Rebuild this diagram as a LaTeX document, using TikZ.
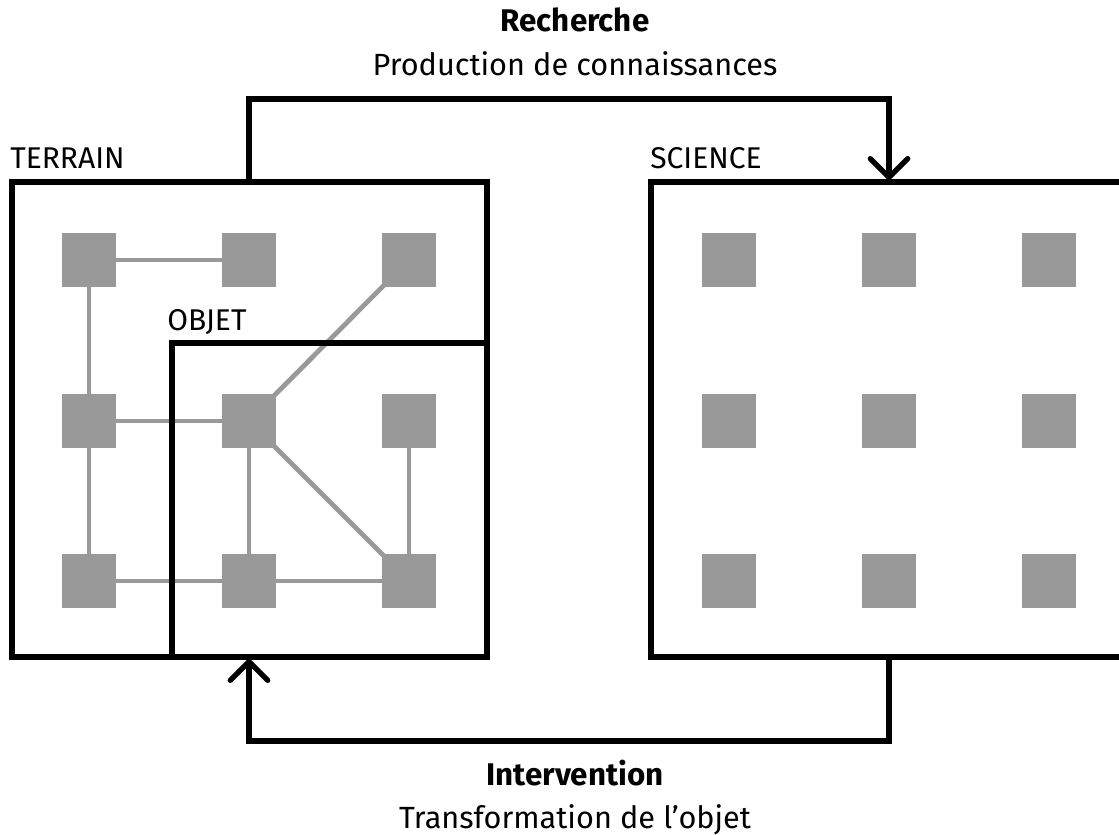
\documentclass[tikz,border=0pt]{standalone}
\usepackage{fontspec}
\setmainfont{Fira Sans}
\usetikzlibrary{arrows.meta}
\definecolor{sq}{HTML}{999999}
\tikzset{
  sqnode/.style={fill=sq, minimum size=40.5pt, inner sep=0pt, draw=none},
  edge/.style={draw=sq, line width=3.6pt},
  frame/.style={draw=black, line width=4pt},
  flow/.style={draw=black, line width=4pt, -{Straight Barb[length=14pt,width=28pt,round]}},
  lab/.style={font=\fontsize{22.5}{26}\selectfont, inner sep=0pt, anchor=base west},
  ttl/.style={font=\fontsize{23.5}{27}\selectfont\bfseries, inner sep=0pt, anchor=base},
  sub/.style={font=\fontsize{23}{27}\selectfont, inner sep=0pt, anchor=base}
}
\begin{document}
\begin{tikzpicture}[x=0.75pt,y=-0.75pt]
\useasboundingbox (0,0) rectangle (1119,834);
% terrain squares
\foreach \i/\x in {1/89,2/249,3/409}{
  \foreach \j/\y in {1/260,2/421,3/581}{
    \coordinate (t\i\j) at (\x,\y);
  }
}
\foreach \i/\x in {1/729,2/889,3/1049}{
  \foreach \j/\y in {1/260,2/421,3/581}{
    \node[sqnode] (s\i\j) at (\x,\y) {};
  }
}
% edges
\draw[edge] (t11) -- (t21);
\draw[edge] (t11) -- (t12);
\draw[edge] (t12) -- (t22);
\draw[edge] (t12) -- (t13);
\draw[edge] (t13) -- (t23);
\draw[edge] (t23) -- (t33);
\draw[edge] (t22) -- (t23);
\draw[edge] (t22) -- (t31);
\draw[edge] (t22) -- (t33);
\draw[edge] (t32) -- (t33);
\foreach \i in {1,2,3}{\foreach \j in {1,2,3}{\node[sqnode] (n\i\j) at (t\i\j) {};}}
% frames
\draw[frame] (12,182) rectangle (487,657);
\draw[frame] (172,343) rectangle (487,657);
\draw[frame] (651,182) rectangle (1135,657);
\coordinate (tt) at (249,182);
\coordinate (st) at (889,180);
\coordinate (sb) at (889,657);
\coordinate (tb) at (249,659);
\draw[flow] (tt) |- (569,99) -| (st);
\draw[flow] (sb) |- (569,741) -| (tb);
% labels
\node[lab] (lt) at (10,169) {TERRAIN};
\node[lab] (ls) at (650,169) {SCIENCE};
\node[lab] (lo) at (167,330) {OBJET};
\node[ttl] (r1) at (575,32) {Recherche};
\node[sub] (r2) at (575,76) {Production de connaissances};
\node[ttl] (i1) at (575,785) {Intervention};
\node[sub] (i2) at (575,828) {Transformation de l’objet};
\end{tikzpicture}
\end{document}
